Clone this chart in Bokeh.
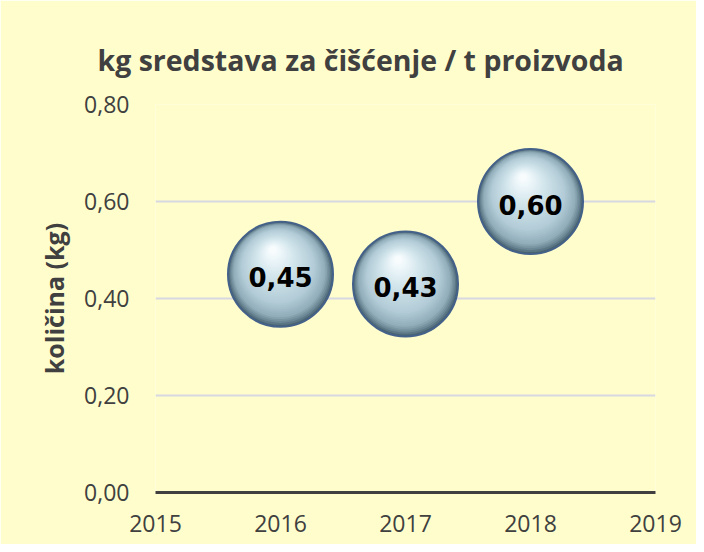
from bokeh.plotting import figure
from bokeh.models import Range1d, FixedTicker, CustomJSTickFormatter, ColumnDataSource
from bokeh.core.properties import value
from bokeh.embed import file_html
from bokeh.resources import INLINE

# ---- data ----
years = [2016, 2017, 2018]
values = [0.45, 0.43, 0.60]
labels = [f"{v:.2f}".replace(".", ",") for v in values]
x_ticks = [2015, 2016, 2017, 2018, 2019]
y_ticks = [0.0, 0.2, 0.4, 0.6, 0.8]
title_text = "kg sredstava za čišćenje / t proizvoda"
y_label = "količina (kg)"

# ---- layout ----
W, H = 696, 544
FL, FT, FR, FB = 155, 104, 41, 52
frame_w = W - FL - FR
frame_h = H - FT - FB
x0, x1 = 2015, 2019
y0, y1 = 0.0, 0.8
px_x = (x1 - x0) / frame_w
px_y = (y1 - y0) / frame_h

BG = "#FFFDCC"
TXT = "#404040"

p = figure(width=W, height=H, output_backend="svg", toolbar_location=None,
           x_range=Range1d(x0, x1), y_range=Range1d(y0, y1),
           min_border_left=FL, min_border_top=FT, min_border_right=FR, min_border_bottom=FB,
           background_fill_color=BG, border_fill_color=BG)
p.outline_line_color = None

p.title.text = title_text
p.title.text_font = "Open Sans"
p.title.text_font_style = "bold"
p.title.text_font_size = "28.5px"
p.title.text_color = TXT
p.title.align = "left"
p.title.offset = -58
p.title.standoff = 51

# axes
p.yaxis.ticker = FixedTicker(ticks=y_ticks)
p.yaxis.formatter = CustomJSTickFormatter(code="return tick.toFixed(2).replace('.', ',');")
p.xaxis.ticker = FixedTicker(ticks=x_ticks)
p.xaxis.formatter = CustomJSTickFormatter(code="return tick.toFixed(0);")
for ax in (p.xaxis[0], p.yaxis[0]):
    ax.major_tick_line_color = None
    ax.minor_tick_line_color = None
    ax.major_label_text_font = "Open Sans"
    ax.major_label_text_font_size = "23px"
    ax.major_label_text_color = TXT
p.yaxis.axis_line_color = None
p.yaxis.major_label_standoff = 20
p.xaxis.major_label_standoff = 16
p.xaxis.axis_line_color = TXT
p.xaxis.axis_line_width = 3
p.yaxis.axis_label = y_label
p.yaxis.axis_label_text_font = "Open Sans"
p.yaxis.axis_label_text_font_style = "bold"
p.yaxis.axis_label_text_font_size = "25px"
p.yaxis.axis_label_text_color = TXT
p.yaxis.axis_label_standoff = 10

p.xgrid.grid_line_color = None
p.ygrid.ticker = FixedTicker(ticks=y_ticks)
p.ygrid.grid_line_color = "#d8d8e2"
p.ygrid.grid_line_width = 2

# ---- glossy bubbles (layered circles approximating a radial gradient) ----
D = 105  # bubble diameter, px
focal_dx, focal_dy = -8, 26  # highlight offset in px (screen up = +)
stops = [(0.0, (0x4a, 0x64, 0x72)), (0.05, (0x6d, 0x88, 0x96)), (0.12, (0x92, 0xae, 0xbb)),
         (0.30, (0xb3, 0xcc, 0xd7)), (0.60, (0xcf, 0xe3, 0xea)), (0.85, (0xee, 0xf7, 0xfa)),
         (1.0, (0xff, 0xff, 0xff))]

def color_at(t):
    for (t0, c0), (t1, c1) in zip(stops[:-1], stops[1:]):
        if t <= t1:
            f = (t - t0) / (t1 - t0) if t1 > t0 else 0
            c = [round(a + (b - a) * f) for a, b in zip(c0, c1)]
            return "#%02x%02x%02x" % tuple(c)
    return "#ffffff"

N = 40
xs, ys, sizes, colors = [], [], [], []
for i in range(N):
    t = i / (N - 1) * 0.95
    for xv, yv in zip(years, values):
        xs.append(xv + t * focal_dx * px_x)
        ys.append(yv + t * focal_dy * px_y)
        sizes.append(D * (1 - t))
        colors.append(color_at(t))
src = ColumnDataSource(dict(x=xs, y=ys, size=sizes, color=colors))
p.scatter("x", "y", size="size", source=src, marker="circle",
          fill_color="color", line_color=None)
# outline
p.scatter(years, values, size=D, marker="circle", fill_color=None,
          line_color="#44618a", line_width=2)

# labels
p.text(years, values, text=labels, text_align="center", text_baseline="middle",
       text_font=value("DejaVu Sans"), text_font_style="bold", text_font_size="26px",
       text_color="black", y_offset=3)

open("out.html", "w").write(file_html(p, INLINE))
